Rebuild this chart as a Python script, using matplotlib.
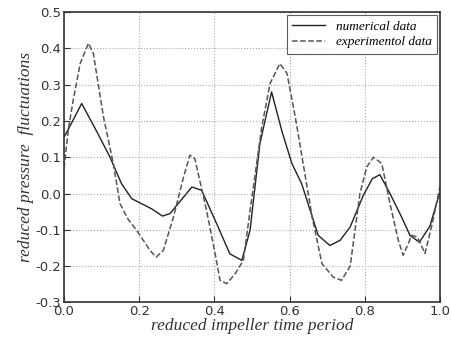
import matplotlib.pyplot as plt

plt.rcParams['axes.unicode_minus'] = False

# reduced impeller time period vs reduced pressure fluctuations
num_t = [0.0, 0.018, 0.047, 0.085, 0.122, 0.153, 0.18, 0.233, 0.262, 0.282,
         0.34, 0.366, 0.406, 0.441, 0.473, 0.495, 0.521, 0.552, 0.58, 0.606,
         0.632, 0.676, 0.707, 0.734, 0.761, 0.796, 0.82, 0.84, 0.867, 0.898,
         0.92, 0.945, 0.973, 1.0]
num_p = [0.155, 0.19, 0.248, 0.175, 0.101, 0.027, -0.014, -0.042, -0.062, -0.055,
         0.018, 0.009, -0.083, -0.166, -0.184, -0.1, 0.138, 0.28, 0.17, 0.083,
         0.027, -0.115, -0.143, -0.129, -0.092, -0.005, 0.041, 0.052, 0.0, -0.065,
         -0.115, -0.134, -0.09, 0.005]

exp_t = [0.0, 0.012, 0.025, 0.043, 0.065, 0.078, 0.105, 0.131, 0.149, 0.17,
         0.193, 0.229, 0.245, 0.264, 0.291, 0.318, 0.335, 0.348, 0.379, 0.402,
         0.415, 0.433, 0.455, 0.477, 0.495, 0.526, 0.548, 0.574, 0.593, 0.615,
         0.633, 0.66, 0.686, 0.716, 0.738, 0.761, 0.787, 0.805, 0.823, 0.845,
         0.867, 0.889, 0.902, 0.925, 0.94, 0.96, 0.98, 1.0]
exp_p = [0.07, 0.18, 0.26, 0.358, 0.414, 0.386, 0.211, 0.083, -0.028, -0.07,
         -0.101, -0.157, -0.175, -0.157, -0.065, 0.046, 0.106, 0.096, -0.046, -0.166,
         -0.239, -0.248, -0.221, -0.184, -0.046, 0.184, 0.303, 0.358, 0.331, 0.211,
         0.101, -0.065, -0.193, -0.23, -0.239, -0.2, 0.0, 0.073, 0.1, 0.083,
         -0.028, -0.129, -0.17, -0.115, -0.12, -0.165, -0.08, 0.02]

fig = plt.figure(figsize=(4.52, 3.4), dpi=100)
ax = fig.add_axes([0.1416, 0.1103, 0.8319, 0.8544])

ax.plot(num_t, num_p, color='#222222', linewidth=1.0, label='numerical data')
ax.plot(exp_t, exp_p, color='#555555', linewidth=1.1, linestyle='--', label='experimentol data')

ax.set_xlim(0, 1)
ax.set_ylim(-0.3, 0.5)
ax.set_xticks([0.0, 0.2, 0.4, 0.6, 0.8, 1.0])
ax.set_yticks([-0.3, -0.2, -0.1, 0.0, 0.1, 0.2, 0.3, 0.4, 0.5])
ax.tick_params(labelsize=9.5, colors='#333333', length=4, direction='in', pad=2)
ax.grid(True, color='#aaaaaa', linestyle=':', linewidth=0.8)
for s in ax.spines.values():
    s.set_color('#333333')
    s.set_linewidth(1.2)

lab = dict(family='Liberation Serif', style='italic', size=12.5, color='#333333')
ax.set_xlabel('reduced impeller time period', labelpad=0, **lab)
ax.set_ylabel('reduced pressure  fluctuations', labelpad=1, **lab)

leg = ax.legend(loc='upper right', prop=dict(family='Liberation Serif', style='italic', size=9.5),
                fancybox=False, edgecolor='#333333', handlelength=2.5,
                borderaxespad=0.25, labelspacing=0.25)
leg.get_frame().set_linewidth(0.8)

plt.savefig('out.png', dpi=100)
